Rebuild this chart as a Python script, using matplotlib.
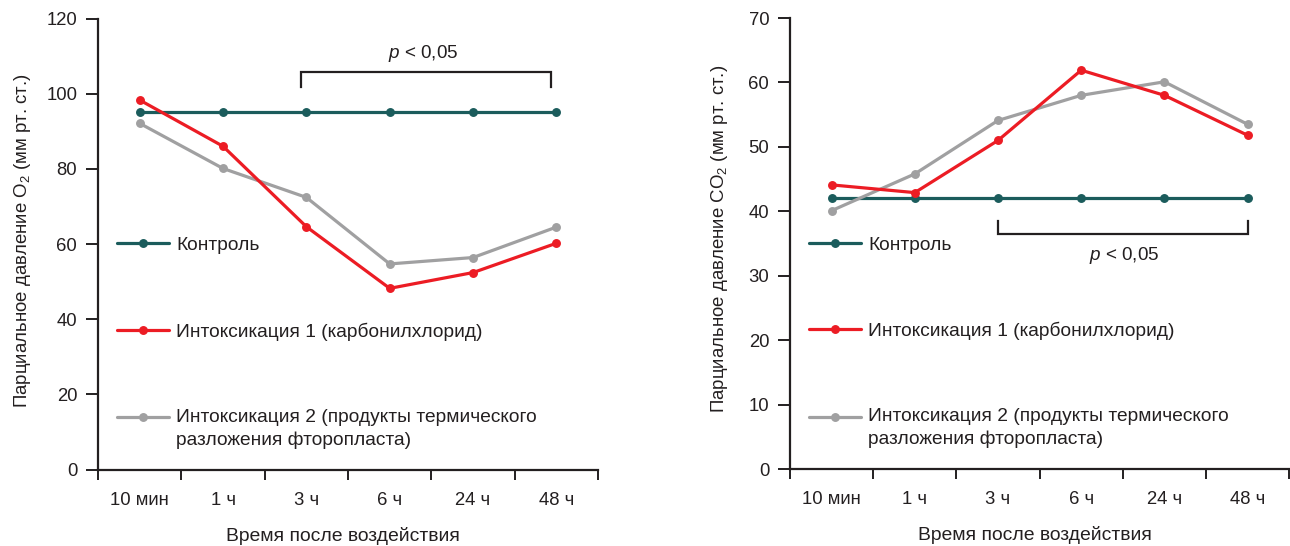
import numpy as np
import matplotlib
matplotlib.use("Agg")
import matplotlib.pyplot as plt
from matplotlib.legend_handler import HandlerLine2D

plt.rcParams['font.family'] = ['Liberation Sans', 'DejaVu Sans']
plt.rcParams['mathtext.fontset'] = 'custom'
plt.rcParams['mathtext.rm'] = 'Liberation Sans'
plt.rcParams['mathtext.it'] = 'Liberation Sans:italic'

# data
times = ["10 мин", "1 ч", "3 ч", "6 ч", "24 ч", "48 ч"]
series_names = ["Контроль",
                "Интоксикация 1 (карбонилхлорид)",
                "Интоксикация 2 (продукты термического\nразложения фторопласта)"]

o2_control = [95, 95, 95, 95, 95, 95]
o2_tox1 = [98.3, 86.0, 64.6, 48.2, 52.4, 60.2]
o2_tox2 = [92.1, 80.1, 72.4, 54.7, 56.4, 64.5]

co2_control = [42, 42, 42, 42, 42, 42]
co2_tox1 = [44.1, 42.9, 51.0, 61.9, 58.0, 51.8]
co2_tox2 = [40.1, 45.8, 54.1, 58.0, 60.1, 53.5]

sig_from, sig_to = 2, 5   # p < 0,05 from "3 ч" to "48 ч"

TEAL = "#1b5c5c"
RED = "#ec1c24"
GRAY = "#a0a0a1"
INK = "#231f20"


class FirstLineHandler(HandlerLine2D):
    # put the legend sample at the first line of a two-line label
    def __init__(self, lift=0.0, **kw):
        super().__init__(**kw)
        self.lift = lift

    def create_artists(self, legend, orig_handle, xdescent, ydescent, width, height, fontsize, trans):
        arts = super().create_artists(legend, orig_handle, xdescent, ydescent, width, height, fontsize, trans)
        for a in arts:
            a.set_ydata(np.asarray(a.get_ydata()) + self.lift * fontsize)
        return arts


def draw_panel(ax, control, tox1, tox2, ymax, ystep, ylabel, br_y, br_tip, br_shift, p_x, p_y):
    x = np.arange(len(times))
    kw = dict(lw=2.3, marker="o", ms=5.4, solid_capstyle="round")
    h_c, = ax.plot(x, control, color=TEAL, **kw)
    h_2, = ax.plot(x, tox2, color=GRAY, **kw)
    h_1, = ax.plot(x, tox1, color=RED, **kw)

    ax.set_xlim(-0.5, len(times) - 0.5)
    ax.set_ylim(0, ymax)
    for s in ("top", "right"):
        ax.spines[s].set_visible(False)
    for s in ("left", "bottom"):
        ax.spines[s].set_linewidth(1.6)
        ax.spines[s].set_color(INK)

    ax.set_yticks(np.arange(0, ymax + 1, ystep))
    ax.tick_params(axis="y", direction="out", length=9, width=1.4, color=INK,
                   labelsize=13.3, labelcolor=INK, pad=6)
    ax.set_xticks(np.arange(-0.5, len(times)), [])
    ax.set_xticks(x, times, minor=True)
    ax.tick_params(axis="x", which="major", direction="out", length=7.5, width=1.4, color=INK)
    ax.tick_params(axis="x", which="minor", length=0, labelsize=13.3, labelcolor=INK, pad=16)

    ax.set_ylabel(ylabel, fontsize=13.4, color=INK, va="center")
    ax.set_xlabel("Время после воздействия", fontsize=13.9, color=INK)
    ax.xaxis.set_label_coords(0.49, -0.147)
    ax.xaxis.label.set_va("center")

    # significance bracket
    bx0, bx1 = sig_from + br_shift, sig_to + br_shift
    ax.plot([bx0, bx0, bx1, bx1], [br_tip, br_y, br_y, br_tip],
            color=INK, lw=1.6, solid_joinstyle="miter", clip_on=False)
    ax.text(p_x, p_y, "$p$ < 0,05", fontsize=13.6, color=INK, ha="center", va="center")

    leg = ax.legend([h_c, h_1, h_2], series_names, loc="upper left",
                    bbox_to_anchor=(0.038, 0.516), frameon=False, fontsize=13.75,
                    numpoints=1, handlelength=2.72, handletextpad=0.37,
                    labelspacing=3.57, borderpad=0, borderaxespad=0,
                    handler_map={h_2: FirstLineHandler(lift=0.6)})
    for t in leg.get_texts():
        t.set_color(INK)
        t.set_linespacing(1.4)
    return ax


fig = plt.figure(figsize=(12.9, 5.46), dpi=100)
ax1 = fig.add_axes([0.0760, 0.1401, 0.3876, 0.826])
ax2 = fig.add_axes([0.6124, 0.1410, 0.3870, 0.826])

draw_panel(ax1, o2_control, o2_tox1, o2_tox2, 120, 20,
           "Парциальное давление O$_2$ (мм рт. ст.)", 105.9, 101.7, -0.07, 3.4, 110.7)
draw_panel(ax2, co2_control, co2_tox1, co2_tox2, 70, 10,
           "Парциальное давление CO$_2$ (мм рт. ст.)", 36.4, 38.5, 0.0, 3.52, 33.2)
ax1.yaxis.set_label_coords(-0.152, 0.508)
ax2.yaxis.set_label_coords(-0.142, 0.51)

fig.savefig("out.png", dpi=100)
